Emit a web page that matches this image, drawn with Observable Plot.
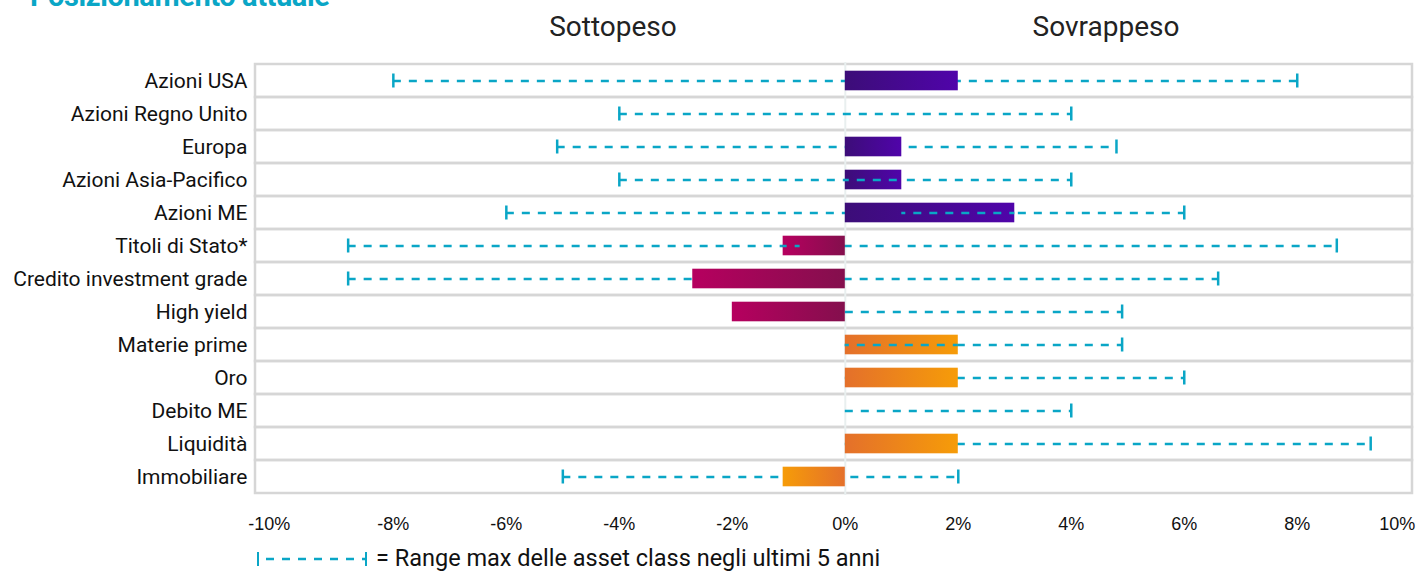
<!DOCTYPE html>
<html>
<head>
<meta charset="utf-8">
<script src="https://cdn.jsdelivr.net/npm/d3@7"></script>
<script src="https://cdn.jsdelivr.net/npm/@observablehq/plot@0.6"></script>
<style>
  html, body { margin: 0; padding: 0; background: #fff; }
  #page { position: relative; width: 1419px; height: 571px; overflow: hidden; font-family: Roboto, "Noto Sans", sans-serif; }
  #title { position: absolute; left: 30px; top: -18px; font-size: 29px; line-height: 29px; font-weight: 700; color: #0aa6c6; white-space: nowrap; letter-spacing: -0.4px; }
  .hdr { position: absolute; width: 240px; text-align: center; font-size: 28px; line-height: 28px; color: #222; top: 13px; }
  #chart { position: absolute; left: 0; top: 0; }
  #legend { position: absolute; left: 256px; top: 545px; height: 26px; display: flex; align-items: center; font-size: 23.5px; line-height: 26px; color: #111; white-space: nowrap; }
  #legend svg { margin-right: 8px; }
</style>
</head>
<body>
<div id="page">
  <div id="title">Posizionamento attuale</div>
  <div class="hdr" style="left:493px">Sottopeso</div>
  <div class="hdr" style="left:986px">Sovrappeso</div>
  <div id="chart"></div>
  <div id="legend"></div>
</div>
<script>
// ---- data ----
const categories = ["Azioni USA", "Azioni Regno Unito", "Europa", "Azioni Asia-Pacifico", "Azioni ME",
  "Titoli di Stato*", "Credito investment grade", "High yield", "Materie prime", "Oro",
  "Debito ME", "Liquidità", "Immobiliare"];
const groups = ["eq", "eq", "eq", "eq", "eq", "bond", "bond", "bond", "real", "real", "real", "real", "real"];
const current = [2, 0, 1, 1, 3, -1.1, -2.7, -2, 2, 2, 0, 2, -1.1];
const rangeMin = [-8, -4, -5.1, -4, -6, -8.8, -8.8, 0, 0, 0, 0, 0, -5];
const rangeMax = [8, 4, 4.8, 4, 6, 8.7, 6.6, 4.9, 4.9, 6, 4, 9.3, 2];
// parts of the range line that show on top of the bars
const overlayCat = ["Azioni Asia-Pacifico", "Azioni ME", "Titoli di Stato*", "Materie prime"];
const overlayFrom = [0, 1, -1.1, 0];
const overlayTo = [1, 3, -0.8, 2];
const xTicks = [-8, -6, -4, -2, 0, 2, 4, 6, 8];
const xEdgeLeft = [-10];
const xEdgeRight = [10];
const legendText = "= Range max delle asset class negli ultimi 5 anni";

const rows = categories.map((c, i) => ({cat: c, group: groups[i], v: current[i], lo: rangeMin[i], hi: rangeMax[i]}));
const overlays = overlayCat.map((c, i) => ({cat: c, a: overlayFrom[i], b: overlayTo[i]}));
const caps = [];
rows.forEach(r => { if (r.lo !== 0) caps.push({cat: r.cat, x: r.lo}); caps.push({cat: r.cat, x: r.hi}); });

const teal = "#0aa6c6";
const gradients = {
  eq: ["#3c0d78", "#5004aa"],
  bond: ["#840f4d", "#b6005f"],
  real: ["#e4702b", "#f69c08"]
};

function defs() {
  const d = d3.create("svg:defs");
  for (const [k, [dark, bright]] of Object.entries(gradients)) {
    const gp = d.append("linearGradient").attr("id", "g-" + k + "-pos").attr("x1", "0").attr("x2", "1").attr("y1", "0").attr("y2", "0");
    gp.append("stop").attr("offset", "0").attr("stop-color", dark);
    gp.append("stop").attr("offset", "1").attr("stop-color", bright);
    const gn = d.append("linearGradient").attr("id", "g-" + k + "-neg").attr("x1", "0").attr("x2", "1").attr("y1", "0").attr("y2", "0");
    gn.append("stop").attr("offset", "0").attr("stop-color", bright);
    gn.append("stop").attr("offset", "1").attr("stop-color", dark);
  }
  return d.node();
}

const barMarks = [];
for (const k of Object.keys(gradients)) {
  for (const sign of ["pos", "neg"]) {
    const sub = rows.filter(r => r.group === k && r.v !== 0 && (sign === "pos" ? r.v > 0 : r.v < 0));
    if (sub.length) barMarks.push(Plot.barX(sub, {y: "cat", x1: 0, x2: "v", fill: `url(#g-${k}-${sign})`, insetTop: 6.7, insetBottom: 6.7}));
  }
}

const xAxisOpts = {tickFormat: d => d + "%", tickSize: 0, tickPadding: 22, fontSize: 18, fontFamily: "'Liberation Sans Narrow', 'Arial Narrow', sans-serif", label: null};

const plot = Plot.plot({
  width: 1419,
  height: 540,
  marginLeft: 255,
  marginRight: 7,
  marginTop: 62,
  marginBottom: 45,
  style: {fontFamily: "Roboto, sans-serif", color: "#111", background: "transparent"},
  x: {domain: [-10.44, 10.04]},
  y: {domain: categories, padding: 0},
  marks: [
    defs,
    Plot.cell(categories, {y: d => d, fill: "none", stroke: "#d6d6d6", strokeWidth: 2.5}),
    Plot.ruleX([0], {stroke: "#e9efef", strokeWidth: 2}),
    Plot.ruleY(rows, {y: "cat", x1: "lo", x2: "hi", stroke: teal, strokeWidth: 2.5, strokeDasharray: "8,8"}),
    ...barMarks,
    Plot.ruleY(overlays, {y: "cat", x1: "a", x2: "b", stroke: teal, strokeWidth: 2.5, strokeDasharray: "8,8", strokeDashoffset: 4}),
    Plot.tickX(caps, {y: "cat", x: "x", stroke: teal, strokeWidth: 2.5, insetTop: 9.5, insetBottom: 9.5}),
    Plot.axisY({tickSize: 0, tickPadding: 8, fontSize: 21, label: null}),
    Plot.axisX({...xAxisOpts, ticks: xTicks}),
    Plot.axisX({...xAxisOpts, ticks: xEdgeLeft, dx: -11}),
    Plot.axisX({...xAxisOpts, ticks: xEdgeRight, dx: -13})
  ]
});
document.getElementById("chart").appendChild(plot);

// legend
const lg = d3.select("#legend");
const ls = lg.append("svg").attr("width", 112).attr("height", 20);
ls.append("line").attr("x1", 2).attr("x2", 110).attr("y1", 11).attr("y2", 11).attr("stroke", teal).attr("stroke-width", 2.5).attr("stroke-dasharray", "8,8").attr("stroke-dashoffset", -8);
ls.append("line").attr("x1", 2).attr("x2", 2).attr("y1", 4).attr("y2", 18).attr("stroke", teal).attr("stroke-width", 2);
ls.append("line").attr("x1", 110).attr("x2", 110).attr("y1", 4).attr("y2", 18).attr("stroke", teal).attr("stroke-width", 2);
lg.append("span").text(legendText);
</script>
</body>
</html>
